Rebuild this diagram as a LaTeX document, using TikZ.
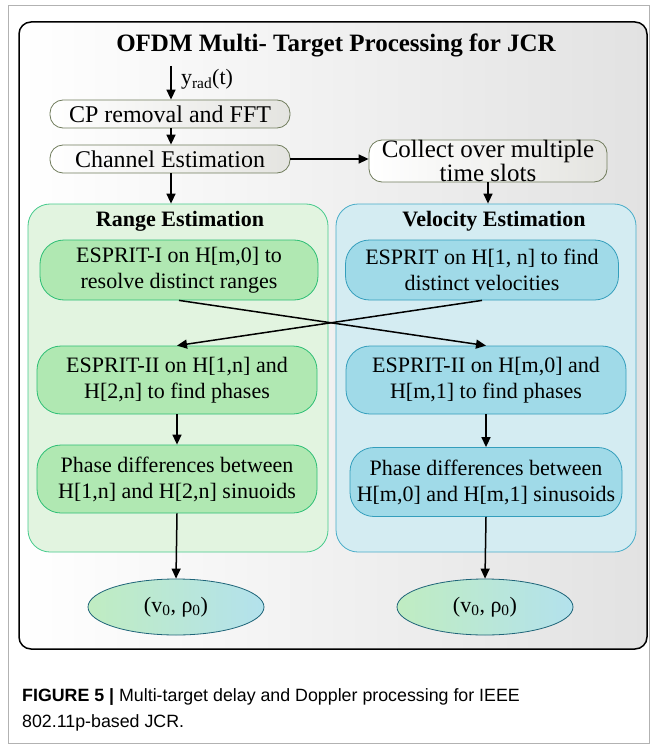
\documentclass[tikz,border=0pt]{standalone}
\usepackage{fontspec}
\setmainfont{Liberation Serif}
\newfontfamily\capfont{Liberation Sans}
\usetikzlibrary{shapes.geometric,arrows.meta,positioning,calc}
\definecolor{topedge}{RGB}{112, 124, 92}
\definecolor{topfill}{RGB}{228, 228, 224}
\definecolor{rangepastel}{RGB}{226, 244, 224}
\definecolor{rangeborder}{RGB}{70, 202, 140}
\definecolor{rangefill}{RGB}{176, 232, 178}
\definecolor{rangeedge}{RGB}{44, 190, 116}
\definecolor{velpastel}{RGB}{212, 236, 242}
\definecolor{velborder}{RGB}{72, 172, 200}
\definecolor{velfill}{RGB}{160, 218, 232}
\definecolor{veledge}{RGB}{52, 158, 188}
\definecolor{outedge}{RGB}{30, 100, 120}
\definecolor{framegray}{RGB}{226, 226, 226}

\begin{document}
\begin{tikzpicture}[
    x=1pt, y=-1pt,
    font=\fontsize{22}{26}\selectfont,
    topbox/.style={draw=topedge, line width=0.8pt, rounded corners=13pt, left color=white, right color=topfill, align=center, inner sep=0pt, font=\fontsize{24}{22}\selectfont},
    container/.style={draw=#1border, fill=#1pastel, line width=0.8pt, rounded corners=22pt, minimum width=300pt, minimum height=348pt, inner sep=0pt},
    innerbox/.style={draw=#1edge, fill=#1fill, line width=0.8pt, rounded corners=24pt, align=center, inner sep=0pt},
    outell/.style={ellipse, draw=outedge, line width=0.8pt, left color=rangefill!80, right color=velfill!80, minimum width=176pt, minimum height=56pt, inner sep=0pt},
    sectitle/.style={font=\fontsize{22}{26}\selectfont\bfseries},
    arr/.style={-{Triangle[length=10pt, width=9pt]}, line width=1.5pt, draw=black}
]
\useasboundingbox (0,0) rectangle (650,746);

% Figure border and panel
\draw[gray!60, line width=0.8pt] (8,5) rectangle (649,743);
\draw[line width=1.5pt, rounded corners=12pt, left color=white, middle color=white!96!black, right color=framegray] (19,22) rectangle (647,649);

% Title
\node[font=\fontsize{25}{30}\selectfont\bfseries] (title) at (336,45) {OFDM Multi- Target Processing for JCR};

% Front end
\coordinate (rx) at (171,66);
\node[topbox, minimum width=240pt, minimum height=28pt] (cp) at (170,114) {CP removal and FFT};
\node[topbox, minimum width=240pt, minimum height=28pt] (chan) at (170,159) {Channel Estimation};
\node[topbox, minimum width=238pt, minimum height=42pt, font=\fontsize{25}{22}\selectfont] (collect) at (488,161) {Collect over multiple\\time slots};

% Range branch
\node[container=range] (rangegrp) at (178,378) {};
\node[sectitle] (rangettl) at (180,221) {Range Estimation};
\node[innerbox=range, minimum width=278pt, minimum height=60pt] (esp1) at (179,270) {ESPRIT-I on H[m,0] to\\resolve distinct ranges};
\node[innerbox=range, minimum width=280pt, minimum height=68pt] (esp2r) at (177,380) {ESPRIT-II on H[1,n] and\\H[2,n] to find phases};
\node[innerbox=range, minimum width=280pt, minimum height=68pt] (phr) at (177,479) {Phase differences between\\H[1,n] and H[2,n] sinuoids};

% Velocity branch
\node[container=vel] (velgrp) at (486,378) {};
\node[sectitle] (velttl) at (494,221) {Velocity Estimation};
\node[innerbox=vel, minimum width=273pt, minimum height=60pt] (espv) at (482,270) {ESPRIT on H[1, n] to find\\distinct velocities};
\node[innerbox=vel, minimum width=280pt, minimum height=68pt] (esp2v) at (486,380) {ESPRIT-II on H[m,0] and\\H[m,1] to find phases};
\node[innerbox=vel, minimum width=272pt, minimum height=69pt] (phv) at (486,482) {Phase differences between\\H[m,0] and H[m,1] sinusoids};

% Outputs
\node[outell] (outr) at (176,607) {(v\textsubscript{0}, ρ\textsubscript{0})};
\node[outell] (outv) at (485,607) {(v\textsubscript{0}, ρ\textsubscript{0})};

% Connecting arrows
\draw[arr] (rx) -- node[right=6pt, pos=0.4] {y\textsubscript{rad}(t)} (cp.north -| rx);
\draw[arr] (cp.south -| rx) -- (chan.north -| rx);
\draw[arr] (chan.east) -- (chan.east -| collect.west);
\draw[arr] (chan.south -| rx) -- (rangegrp.north -| rx);
\draw[arr] (collect.south) -- (collect.south |- velgrp.north);
\draw[arr] (esp1.south) -- (esp2v.north);
\draw[arr] (espv.south) -- (esp2r.north);
\draw[arr] (esp2r.south) -- (phr.north);
\draw[arr] (esp2v.south) -- (phv.north);
\draw[arr] (phr.south) -- (outr.north);
\draw[arr] (phv.south) -- (outv.north);

% Caption
\node[anchor=base west, font=\capfont\fontsize{17.8}{26}\selectfont, align=left, inner sep=0pt] (caption) at (22,727)
    {\textbf{FIGURE 5 |} Multi-target delay and Doppler processing for IEEE\\802.11p-based JCR.};
\end{tikzpicture}
\end{document}
